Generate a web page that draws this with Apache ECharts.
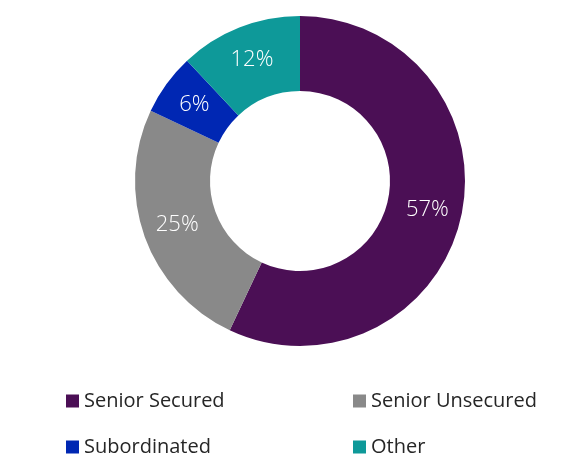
<!DOCTYPE html>
<html>
<head>
<meta charset="utf-8">
<script src="https://cdn.jsdelivr.net/npm/echarts@6/dist/echarts.min.js"></script>
<style>
  html, body { margin: 0; padding: 0; background: #fff; }
  #chart { width: 585px; height: 456px; }
</style>
</head>
<body>
<div id="chart"></div>
<script>
  var categories = ['Senior Secured', 'Senior Unsecured', 'Subordinated', 'Other'];
  var shares = [57, 25, 6, 12];
  var colors = ['#4b0f55', '#898989', '#0027b3', '#0e9999'];

  var font = '"Open Sans", "Noto Sans", sans-serif';

  var pieData = [];
  for (var i = 0; i < categories.length; i++) {
    pieData.push({ name: categories[i], value: shares[i], itemStyle: { color: colors[i] } });
  }

  // one legend per item: 2 columns x 2 rows like the original
  var legendPos = [[61, 386], [348, 386], [61, 432], [348, 432]];
  var legends = [];
  for (var j = 0; j < categories.length; j++) {
    legends.push({
      left: legendPos[j][0], top: legendPos[j][1],
      itemWidth: 13, itemHeight: 13, icon: 'rect',
      data: [categories[j]],
      textStyle: { fontFamily: font, fontSize: 20, color: '#262626' }
    });
  }

  var chart = echarts.init(document.getElementById('chart'));
  chart.setOption({
    animation: false,
    legend: legends,
    series: [{
      type: 'pie',
      center: [300, 181],
      radius: [90, 165],
      startAngle: 90,
      clockwise: true,
      data: pieData,
      label: {
        show: true,
        position: 'inside',
        formatter: '{c}%',
        color: '#fff',
        fontFamily: font,
        fontSize: 22,
        fontWeight: 300
      },
      labelLine: { show: false },
      emphasis: { disabled: true }
    }]
  });
</script>
</body>
</html>
